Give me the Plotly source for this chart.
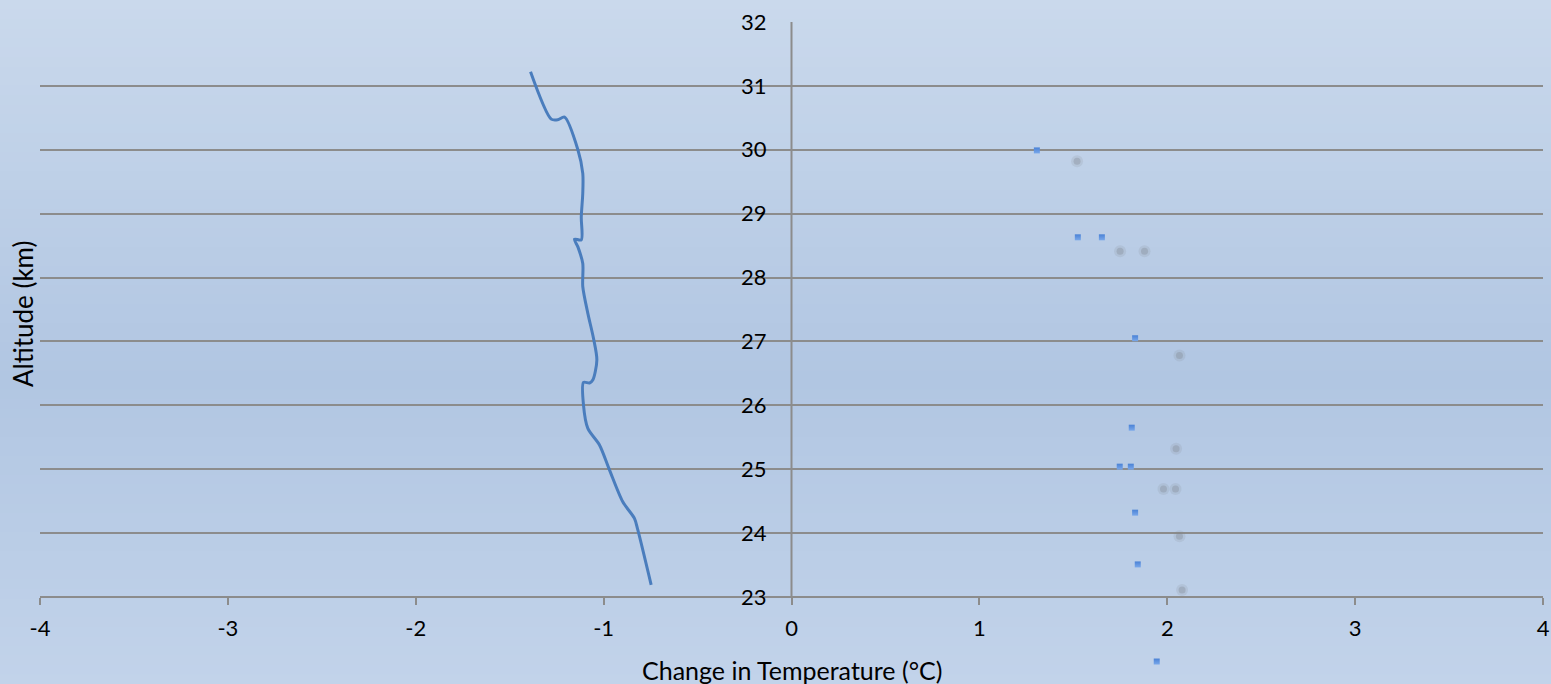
import plotly.graph_objects as go

# ---------------- data ----------------
line_x = [-0.747, -0.818, -0.836, -0.898, -0.969, -1.022, -1.084, -1.107, -1.107,
          -1.075, -1.057, -1.036, -1.054, -1.084, -1.111, -1.111, -1.137, -1.155,
          -1.119, -1.119, -1.111, -1.111, -1.137, -1.208, -1.244, -1.279, -1.389]
line_y = [23.19, 24.05, 24.23, 24.49, 24.99, 25.38, 25.64, 26.00, 26.36,
          26.35, 26.40, 26.71, 27.05, 27.44, 27.86, 28.22, 28.48, 28.60,
          28.59, 28.95, 29.32, 29.63, 30.00, 30.51, 30.47, 30.48, 31.22]

blue_x = [1.306, 1.524, 1.652, 1.829, 1.811, 1.747, 1.806, 1.829, 1.843, 1.944]
blue_y = [29.99, 28.63, 28.63, 27.05, 25.65, 25.04, 25.04, 24.32, 23.51, 21.99]

gray_x = [1.520, 1.749, 1.879, 2.065, 2.047, 1.980, 2.044, 2.065, 2.079]
gray_y = [29.82, 28.41, 28.41, 26.78, 25.32, 24.69, 24.69, 23.95, 23.11]

x_tick_vals = [-4, -3, -2, -1, 0, 1, 2, 3, 4]
x_tick_labels = ["-4", "-3", "-2", "-1", "0", "1", "2", "3", "4"]
y_tick_vals = [23, 24, 25, 26, 27, 28, 29, 30, 31, 32]
y_tick_labels = ["23", "24", "25", "26", "27", "28", "29", "30", "31", "32"]
y_axis_min, y_axis_max = 23, 32

x_title = "Change in Temperature (°C)"
y_title = "Altitude (km)"

# ---------------- layout geometry ----------------
W, H = 1551, 684
ML, MR, MT, MB = 40, 8, 22, 4
PW, PH = W - ML - MR, H - MT - MB
AXIS_PX = 597                      # pixel row of the x axis (altitude 23)
px_per_km = (AXIS_PX - MT) / (y_axis_max - y_axis_min)
y_lo = y_axis_max - PH / px_per_km  # extend plotting area below the axis
FONT = "Lato"
GRID = "#8c8c8c"

def py2paper(py):
    return (H - MB - py) / PH

fig = go.Figure()

# gray blurred points (two layers to imitate blur)
fig.add_trace(go.Scatter(x=gray_x, y=gray_y, mode="markers", cliponaxis=False,
                         marker=dict(size=12, color="rgba(130,135,145,0.16)", line=dict(width=0)),
                         hoverinfo="skip", showlegend=False))
fig.add_trace(go.Scatter(x=gray_x, y=gray_y, mode="markers", cliponaxis=False,
                         marker=dict(size=7, color="rgba(125,130,140,0.32)", line=dict(width=0)),
                         showlegend=False))
# smooth line
fig.add_trace(go.Scatter(x=line_x, y=line_y, mode="lines",
                         line=dict(color="#4a7dbd", width=3, shape="spline", smoothing=0.8),
                         showlegend=False))
# blue squares
fig.add_trace(go.Scatter(x=blue_x, y=blue_y, mode="markers", cliponaxis=False,
                         marker=dict(symbol="square", size=6, color="#4a82d6",
                                     gradient=dict(type="vertical", color="#7aa8ea"),
                                     line=dict(width=0)),
                         showlegend=False))

# background gradient bands
def lerp(a, b, t):
    return tuple(int(round(a[i] + (b[i] - a[i]) * t)) for i in range(3))

stops = [(0.0, (202, 217, 236)), (0.55, (177, 198, 226)), (1.0, (194, 211, 234))]
nb = 72
shapes = []
for i in range(nb):
    t = (i + 0.5) / nb
    for j in range(len(stops) - 1):
        if stops[j][0] <= t <= stops[j + 1][0]:
            tt = (t - stops[j][0]) / (stops[j + 1][0] - stops[j][0])
            c = lerp(stops[j][1], stops[j + 1][1], tt)
            break
    py0 = i * H / nb
    py1 = (i + 1) * H / nb + 1
    shapes.append(dict(type="rect", xref="paper", yref="paper",
                       x0=-0.05, x1=1.05, y0=py2paper(py1), y1=py2paper(py0), layer="below",
                       line=dict(width=0), fillcolor="rgb(%d,%d,%d)" % c))

# vertical value axis line at x = 0 (from 23 to 32 km)
shapes.append(dict(type="line", xref="x", yref="y", x0=0, x1=0,
                   y0=y_axis_min, y1=y_axis_max, layer="below",
                   line=dict(color=GRID, width=2)))

fig.update_layout(
    width=W, height=H,
    margin=dict(l=ML, r=MR, t=MT, b=MB),
    paper_bgcolor="rgb(190,207,231)",
    plot_bgcolor="rgba(0,0,0,0)",
    shapes=shapes,
    font=dict(family=FONT, size=22, color="#000000"),
    xaxis=dict(range=[-4, 4], tickvals=x_tick_vals, ticktext=x_tick_labels,
               anchor="free", position=py2paper(AXIS_PX), automargin=False,
               showgrid=False, zeroline=False, showline=True, linecolor=GRID, linewidth=2,
               ticks="outside", ticklen=7, tickwidth=2, tickcolor=GRID,
               ticklabelstandoff=5, tickfont=dict(family=FONT, size=22, color="#000")),
    yaxis=dict(range=[y_lo, y_axis_max], tickvals=y_tick_vals, ticktext=y_tick_labels,
               anchor="free", position=0.5, automargin=False,
               showgrid=True, gridcolor=GRID, gridwidth=2,
               zeroline=False, showline=False,
               ticks="", ticklabelstandoff=25,
               tickfont=dict(family=FONT, size=22, color="#000")),
    annotations=[
        dict(text=x_title, xref="paper", yref="paper", x=(792 - ML) / PW, y=py2paper(670),
             xanchor="center", yanchor="middle", showarrow=False,
             font=dict(family=FONT, size=25, color="#000")),
        dict(text=y_title, xref="paper", yref="paper", x=(23 - ML) / PW, y=py2paper(314),
             xanchor="center", yanchor="middle", showarrow=False, textangle=-90,
             font=dict(family=FONT, size=26, color="#000")),
    ],
)

fig.write_html("out.html", config={"displayModeBar": False},
               post_script="document.body.style.margin='0';document.body.style.overflow='hidden';")
